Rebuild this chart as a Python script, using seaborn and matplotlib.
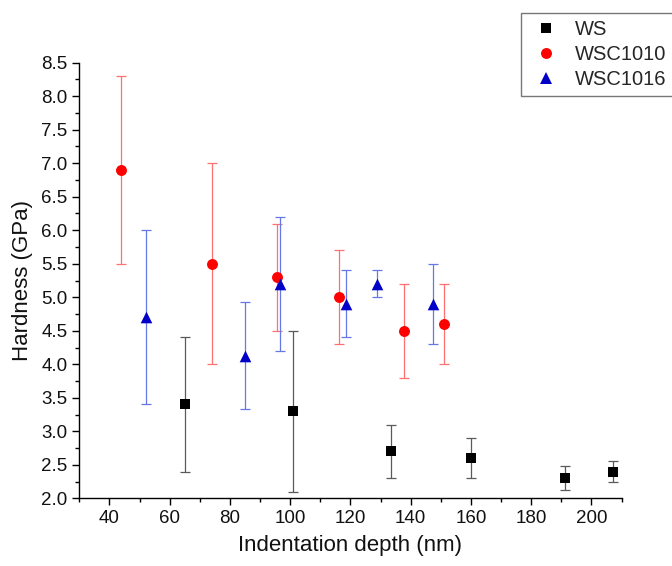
import matplotlib
matplotlib.use("Agg")
import matplotlib.pyplot as plt
from matplotlib.ticker import MultipleLocator, FormatStrFormatter
from matplotlib.lines import Line2D
import seaborn as sns
import pandas as pd

# Nanoindentation hardness vs. indentation depth
ws_depth = [65.0, 101.0, 133.6, 160.0, 191.2, 207.1]
ws_hardness = [3.4, 3.3, 2.7, 2.6, 2.3, 2.4]
ws_err = [1.0, 1.2, 0.4, 0.3, 0.18, 0.16]

wsc1010_depth = [44.0, 73.9, 95.5, 116.1, 137.7, 151.1]
wsc1010_hardness = [6.9, 5.5, 5.3, 5.0, 4.5, 4.6]
wsc1010_err = [1.4, 1.5, 0.8, 0.7, 0.7, 0.6]

wsc1016_depth = [52.1, 84.9, 96.6, 118.4, 128.9, 147.4]
wsc1016_hardness = [4.7, 4.13, 5.2, 4.9, 5.2, 4.9]
wsc1016_err = [1.3, 0.8, 1.0, 0.5, 0.2, 0.6]

sns.set_style("ticks")
plt.rcParams["font.family"] = ["Liberation Sans", "DejaVu Sans"]

series = [
    ("WS", ws_depth, ws_hardness, ws_err, "#000000", "#5a5a5a", "s", 42),
    ("WSC1010", wsc1010_depth, wsc1010_hardness, wsc1010_err, "#ff0000", "#ff7070", "o", 62),
    ("WSC1016", wsc1016_depth, wsc1016_hardness, wsc1016_err, "#0000c8", "#6677e6", "^", 70),
]

fig = plt.figure(figsize=(6.72, 5.66), dpi=100)
ax = fig.add_axes([0.118, 0.1196, 0.807, 0.7696])

handles = []
for name, x, y, e, color, ecolor, marker, size in series:
    df = pd.DataFrame({"depth": x, "hardness": y, "err": e})
    ax.errorbar(df["depth"], df["hardness"], yerr=df["err"], fmt="none",
                ecolor=ecolor, elinewidth=0.9, capsize=3.5, capthick=0.9, zorder=2)
    sns.scatterplot(data=df, x="depth", y="hardness", ax=ax, color=color,
                    marker=marker, s=size, linewidth=0, zorder=3, legend=False)
    handles.append(Line2D([], [], linestyle="none", marker=marker, color=color,
                          markersize=size ** 0.5, markeredgewidth=0, label=name))

ax.set_xlim(30, 210)
ax.set_ylim(2.0, 8.5)
ax.xaxis.set_major_locator(MultipleLocator(20))
ax.xaxis.set_minor_locator(MultipleLocator(10))
ax.yaxis.set_major_locator(MultipleLocator(0.5))
ax.yaxis.set_minor_locator(MultipleLocator(0.25))
ax.yaxis.set_major_formatter(FormatStrFormatter("%.1f"))
ax.tick_params(axis="both", which="major", direction="out", length=5, width=1.0,
               labelsize=13.5, color="black", labelcolor="#111111")
ax.tick_params(axis="both", which="minor", direction="out", length=3, width=1.0,
               color="black")
for side in ("top", "right"):
    ax.spines[side].set_visible(False)
for side in ("left", "bottom"):
    ax.spines[side].set_linewidth(1.0)
    ax.spines[side].set_color("black")

ax.set_xlabel("Indentation depth (nm)", fontsize=16, color="#111111", labelpad=6)
ax.set_ylabel("Hardness (GPa)", fontsize=16, color="#111111", labelpad=6)

leg = fig.legend(handles=handles, loc="upper left", bbox_to_anchor=(0.775, 0.977),
                 bbox_transform=fig.transFigure, fontsize=14.5, frameon=True,
                 fancybox=False, edgecolor="#777777", framealpha=1,
                 borderpad=0.35, labelspacing=0.3, handletextpad=0.55,
                 handlelength=1.8, borderaxespad=0)
leg.get_frame().set_linewidth(1.0)

fig.savefig("out.png", dpi=100)
